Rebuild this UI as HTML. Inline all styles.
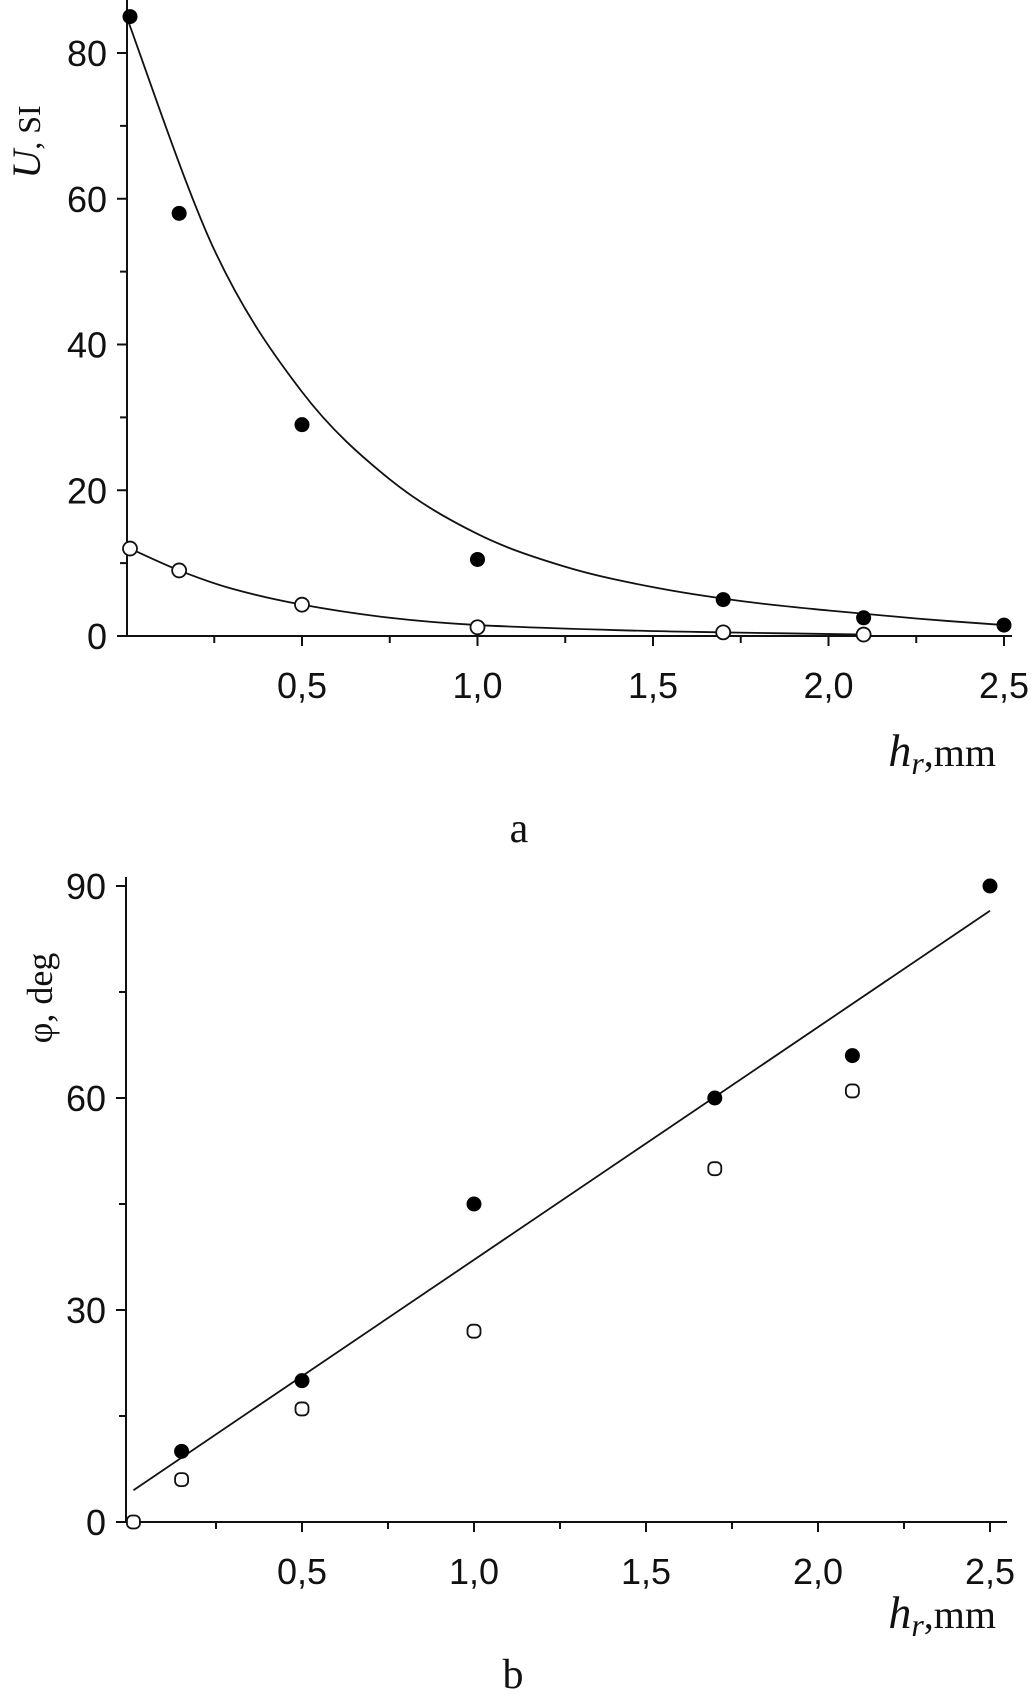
<!DOCTYPE html>
<html><head><meta charset="utf-8"><style>
html,body{margin:0;padding:0;background:#fff;}
svg{display:block;}
.tk{font-family:"Liberation Sans",sans-serif;font-size:36px;fill:#111;}
.sr{font-family:"Liberation Serif",serif;fill:#111;}
</style></head><body>
<svg id="s" width="1032" height="1695" viewBox="0 0 1032 1695">
<g id="ga"></g>
<g id="gb"></g>
<text class="sr" x="519" y="842" font-size="42" text-anchor="middle">a</text>
<text class="sr" x="513" y="1688" font-size="42" text-anchor="middle">b</text>
<text class="sr" transform="translate(40,142) rotate(-90)" text-anchor="middle"><tspan font-style="italic" font-size="40">U</tspan><tspan font-size="32">, SI</tspan></text>
<text class="sr" x="996" y="766" text-anchor="end"><tspan font-style="italic" font-size="46">h</tspan><tspan font-style="italic" font-size="32" dy="8">r</tspan><tspan font-size="40" dy="-8">,mm</tspan></text>
<text class="sr" transform="translate(52,998) rotate(-90)" text-anchor="middle" font-size="36">φ, deg</text>
<text class="sr" x="996" y="1628" text-anchor="end"><tspan font-style="italic" font-size="46">h</tspan><tspan font-style="italic" font-size="32" dy="8">r</tspan><tspan font-size="40" dy="-8">,mm</tspan></text>
</svg>
<script>
// Chart a data
const aFilledX=[0.01,0.15,0.5,1.0,1.7,2.1,2.5];
const aFilledY=[85,58,29,10.5,5,2.5,1.5];
const aOpenX=[0.01,0.15,0.5,1.0,1.7,2.1];
const aOpenY=[12,9,4.3,1.2,0.5,0.2];
const aFitFX=[0,0.25,0.5,0.75,1.0,1.25,1.5,1.75,2.0,2.25,2.5];
const aFitFY=[85,53,33.5,21.5,14,9.5,6.7,4.8,3.5,2.4,1.5];
const aFitOX=[0.01,0.15,0.3,0.5,0.75,1.0,1.4,1.7,2.1];
const aFitOY=[12,9,6.5,4.3,2.5,1.5,0.8,0.5,0.2];
const aXTicks=["0,5","1,0","1,5","2,0","2,5"];
const aYTicks=["0","20","40","60","80"];
// Chart b data
const bFilledX=[0.15,0.5,1.0,1.7,2.1,2.5];
const bFilledY=[10,20,45,60,66,90];
const bOpenX=[0.01,0.15,0.5,1.0,1.7,2.1];
const bOpenY=[0,6,16,27,50,61];
const bFitX=[0.01,2.5];
const bFitY=[4.5,86.5];
const bXTicks=["0,5","1,0","1,5","2,0","2,5"];
const bYTicks=["0","30","60","90"];

const NS="http://www.w3.org/2000/svg";
function mk(p,tag,at){const e=document.createElementNS(NS,tag);for(const k in at)e.setAttribute(k,at[k]);p.appendChild(e);return e;}
function smooth(pts){let d="M"+pts[0][0]+","+pts[0][1];for(let i=0;i<pts.length-1;i++){const p0=pts[Math.max(0,i-1)],p1=pts[i],p2=pts[i+1],p3=pts[Math.min(pts.length-1,i+2)];
const c1x=p1[0]+(p2[0]-p0[0])/6,c1y=p1[1]+(p2[1]-p0[1])/6,c2x=p2[0]-(p3[0]-p1[0])/6,c2y=p2[1]-(p3[1]-p1[1])/6;d+=` C${c1x},${c1y} ${c2x},${c2y} ${p2[0]},${p2[1]}`;}return d;}

function axes(g,cfg){
  const {xs,ys,xL,xR,yTop,y0,xt,yt,yMaj,yMin,yMaxV}=cfg;
  const ax=mk(g,"path",{d:`M${xL},${yTop} L${xL},${y0} L${xR},${y0}`,fill:"none",stroke:"#111","stroke-width":2});
  
  
  for(let v=0.25;v<=2.76;v+=0.25){const X=xs(v);if(X>xR)break;const maj=Math.abs(v/0.5-Math.round(v/0.5))<1e-6;
    const t=mk(g,"line",{x1:X,x2:X,y1:y0,y2:y0+(maj?10:7),stroke:"#111","stroke-width":2});
    
    }
  xt.forEach((s,i)=>{const t=mk(g,"text",{x:xs(0.5*(i+1)),y:y0+62,"text-anchor":"middle",class:"tk"});t.textContent=s;
    
    });
  for(let v=0;v<=yMaxV;v+=yMin){const Y=ys(v);const maj=Math.abs(v/yMaj-Math.round(v/yMaj))<1e-6;
    const t=mk(g,"line",{x1:xL-(maj?10:7),x2:xL,y1:Y,y2:Y,stroke:"#111","stroke-width":2});
    
    }
  yt.forEach(s=>{const t=mk(g,"text",{x:xL-20,y:ys(+s)+13,"text-anchor":"end",class:"tk"});t.textContent=s;
    
    });
}

// chart a
(function(){
  const g=document.getElementById("ga");
  const xs=v=>126.5+v*351, ys=v=>636-v*(583/80);
  axes(g,{xs,ys,xL:127,xR:1012,yTop:0,y0:636,xt:aXTicks,yt:aYTicks,yMaj:20,yMin:10,yMaxV:85});
  const f1=mk(g,"path",{d:smooth(aFitFX.map((x,i)=>[xs(x),ys(aFitFY[i])])),fill:"none",stroke:"#111","stroke-width":1.8});
  
  
  const f2=mk(g,"path",{d:smooth(aFitOX.map((x,i)=>[xs(x),ys(aFitOY[i])])),fill:"none",stroke:"#111","stroke-width":1.8});
  
  
  aOpenX.forEach((x,i)=>{const c=mk(g,"circle",{cx:xs(x),cy:ys(aOpenY[i]),r:7,fill:"#fff",stroke:"#111","stroke-width":1.8});
    
    });
  aFilledX.forEach((x,i)=>{const c=mk(g,"circle",{cx:xs(x),cy:ys(aFilledY[i]),r:7.5,fill:"#000"});
    
    });
})();
// chart b
(function(){
  const g=document.getElementById("gb");
  const xs=v=>130+v*344, ys=v=>1522-v*(636/90);
  axes(g,{xs,ys,xL:126,xR:1007,yTop:877,y0:1522,xt:bXTicks,yt:bYTicks,yMaj:30,yMin:15,yMaxV:90});
  const l=mk(g,"line",{x1:xs(bFitX[0]),y1:ys(bFitY[0]),x2:xs(bFitX[1]),y2:ys(bFitY[1]),stroke:"#111","stroke-width":1.8});
  
  
  bOpenX.forEach((x,i)=>{const c=mk(g,"rect",{x:xs(x)-6.5,y:ys(bOpenY[i])-6.5,width:13,height:13,rx:5,fill:"#fff",stroke:"#111","stroke-width":1.8});
    
    });
  bFilledX.forEach((x,i)=>{const c=mk(g,"circle",{cx:xs(x),cy:ys(bFilledY[i]),r:7.5,fill:"#000"});
    
    });
})();
</script>
</body></html>
